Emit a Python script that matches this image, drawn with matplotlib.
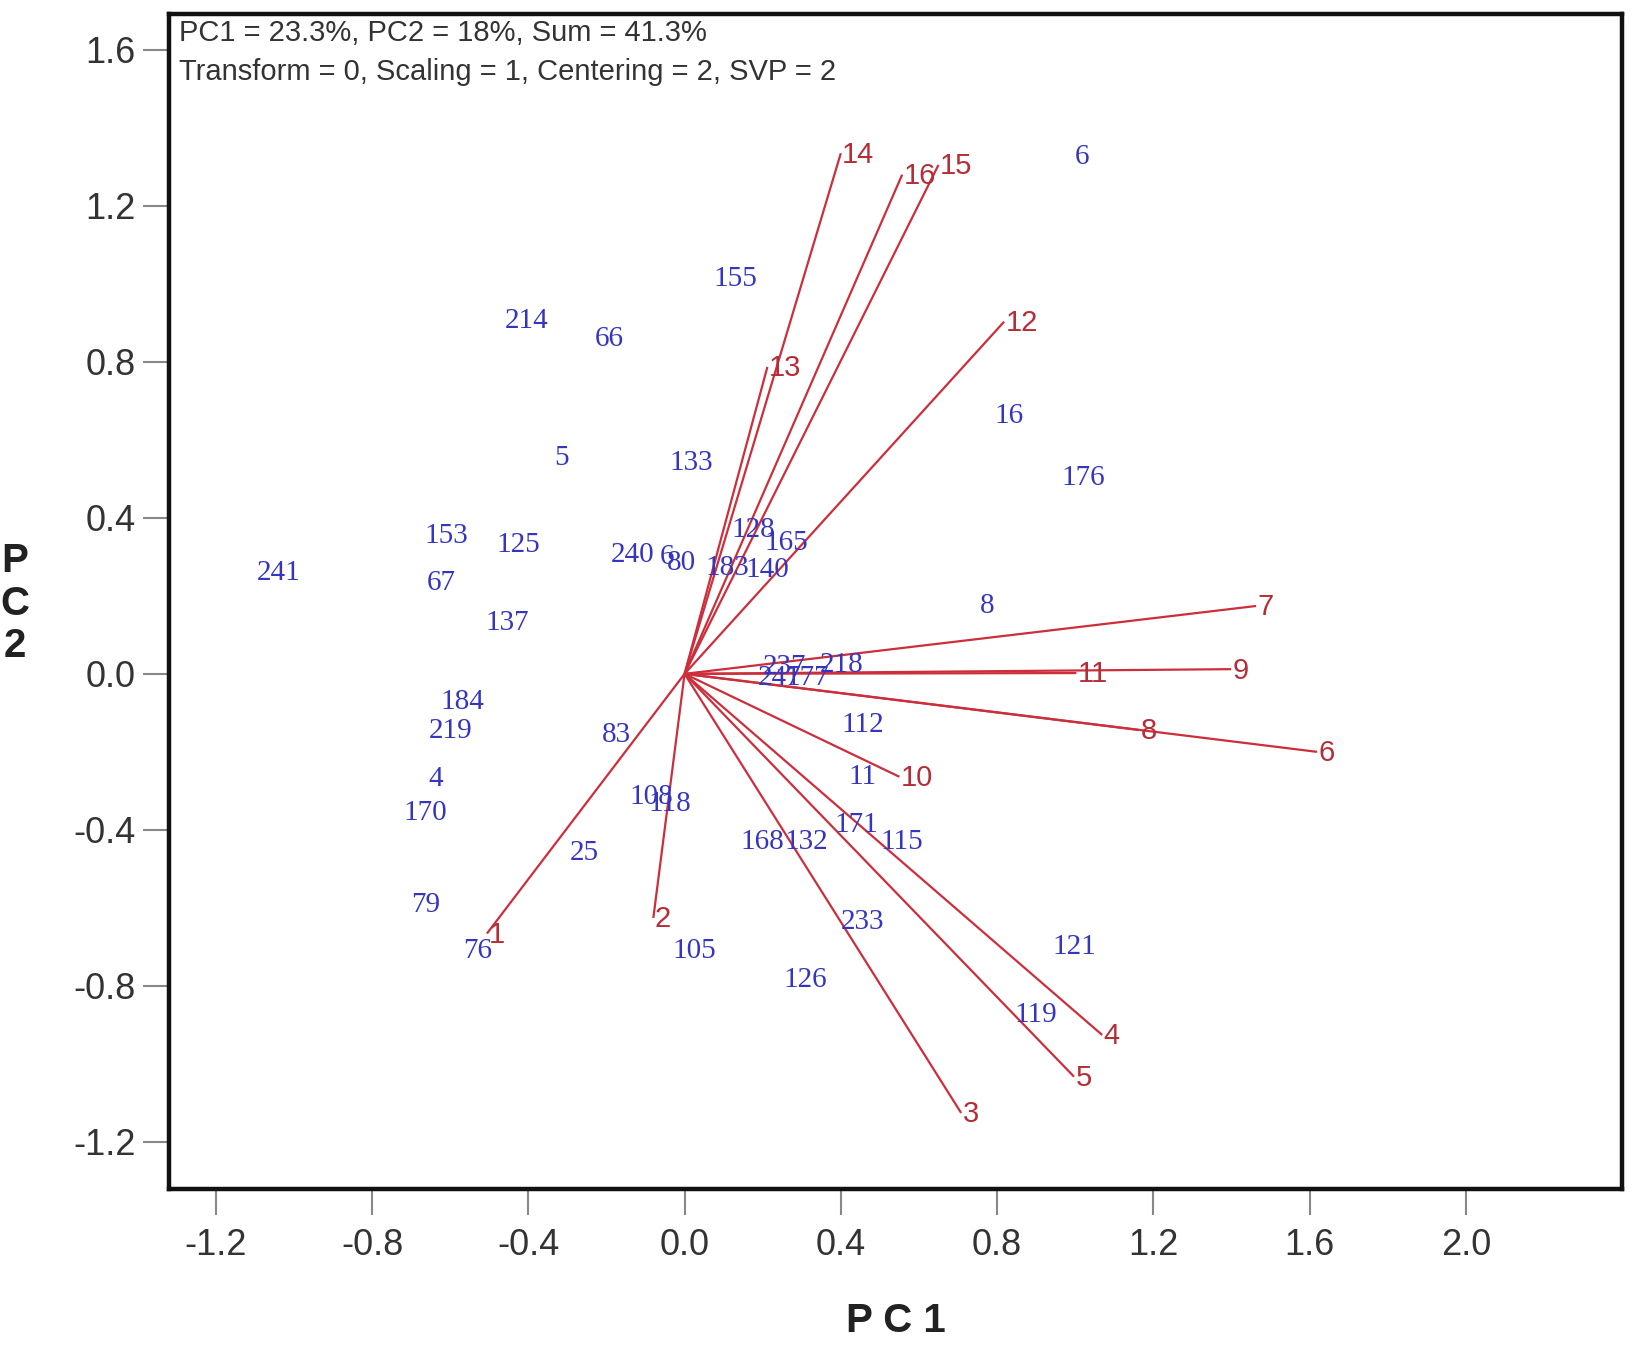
import matplotlib
matplotlib.use('Agg')
import matplotlib.pyplot as plt
from matplotlib.ticker import FixedLocator, FormatStrFormatter

plt.rcParams['axes.unicode_minus'] = False

# loadings (red vectors)
var_names = ['1', '2', '3', '4', '5', '6', '7', '8', '9', '10', '11', '12', '13', '14', '15', '16']
var_x = [-0.506, -0.080, 0.708, 1.069, 0.997, 1.619, 1.463, 1.164, 1.399, 0.550, 1.003, 0.818, 0.212, 0.400, 0.650, 0.557]
var_y = [-0.666, -0.626, -1.126, -0.926, -1.033, -0.200, 0.174, -0.144, 0.012, -0.264, 0.002, 0.903, 0.787, 1.335, 1.305, 1.280]

# scores (blue sample ids)
obs_names = ['6', '155', '214', '66', '16', '176', '5', '133', '153', '125',
             '240', '6', '80', '128', '165', '183', '140', '241', '67', '137',
             '8', '237', '247', '177', '218', '184', '219', '83', '112', '4',
             '11', '108', '118', '170', '171', '168', '132', '115', '25', '79',
             '233', '76', '105', '121', '126', '119']
obs_x = [1.018, 0.130, -0.405, -0.194, 0.831, 1.020, -0.314, 0.016, -0.610, -0.426,
         -0.133, -0.046, -0.008, 0.176, 0.261, 0.109, 0.213, -1.039, -0.623, -0.453,
         0.775, 0.255, 0.243, 0.315, 0.401, -0.570, -0.599, -0.174, 0.455, -0.636,
         0.455, -0.085, -0.038, -0.663, 0.440, 0.199, 0.312, 0.555, -0.256, -0.663,
         0.455, -0.530, 0.024, 0.997, 0.309, 0.900]
obs_y = [1.326, 1.012, 0.906, 0.858, 0.661, 0.503, 0.554, 0.541, 0.354, 0.330,
         0.305, 0.300, 0.285, 0.368, 0.336, 0.272, 0.266, 0.258, 0.234, 0.131,
         0.173, 0.018, -0.010, -0.010, 0.023, -0.072, -0.147, -0.156, -0.131, -0.269,
         -0.264, -0.315, -0.333, -0.357, -0.387, -0.431, -0.431, -0.431, -0.459, -0.594,
         -0.636, -0.711, -0.711, -0.700, -0.786, -0.874]

x_ticks = [-1.2, -0.8, -0.4, 0.0, 0.4, 0.8, 1.2, 1.6, 2.0]
y_ticks = [-1.2, -0.8, -0.4, 0.0, 0.4, 0.8, 1.2, 1.6]

fig = plt.figure(figsize=(16.34, 13.47), dpi=100)
ax = fig.add_axes([0.1034, 0.1173, 0.8893, 0.8723])

for name, x, y in zip(var_names, var_x, var_y):
    ax.plot([0, x], [0, y], color='#cc2f3b', lw=1.6, solid_capstyle='butt')
    ax.annotate(name, (x, y), xytext=(1, -1), textcoords='offset points',
                ha='left', va='center', fontsize=21, color='#b52d37',
                family='Liberation Sans')

for name, x, y in zip(obs_names, obs_x, obs_y):
    ax.text(x, y, name, ha='center', va='center', fontsize=21,
            color='#3535c0', family='Liberation Serif')

ax.set_xlim(-1.32, 2.40)
ax.set_ylim(-1.321, 1.692)
ax.xaxis.set_major_locator(FixedLocator(x_ticks))
ax.yaxis.set_major_locator(FixedLocator(y_ticks))
ax.xaxis.set_major_formatter(FormatStrFormatter('%.1f'))
ax.yaxis.set_major_formatter(FormatStrFormatter('%.1f'))
ax.tick_params(direction='out', length=19, width=1.5, color='#888888',
               labelsize=26, labelcolor='#333333')
ax.tick_params(axis='y', pad=5)
ax.tick_params(axis='x', pad=9)
for lab in ax.get_xticklabels() + ax.get_yticklabels():
    lab.set_family('Liberation Sans')
for sp in ax.spines.values():
    sp.set_linewidth(3.2)
    sp.set_color('#111111')

fig.text(179 / 1634, 1 - 33 / 1347, 'PC1 = 23.3%, PC2 = 18%, Sum = 41.3%',
         ha='left', va='center', fontsize=21, color='#333333', family='Liberation Sans')
fig.text(179 / 1634, 1 - 72 / 1347, 'Transform = 0, Scaling = 1, Centering = 2, SVP = 2',
         ha='left', va='center', fontsize=21, color='#333333', family='Liberation Sans')

fig.text(0.548, 0.0193, 'P C 1', ha='center', va='center', fontsize=29,
         fontweight='bold', color='#222222', family='Liberation Sans')
fig.text(15 / 1634, 0.5516, 'P\nC\n2', ha='center', va='center', fontsize=29,
         fontweight='bold', color='#222222', family='Liberation Sans', linespacing=1.15)

fig.savefig('out.png', dpi=100)
